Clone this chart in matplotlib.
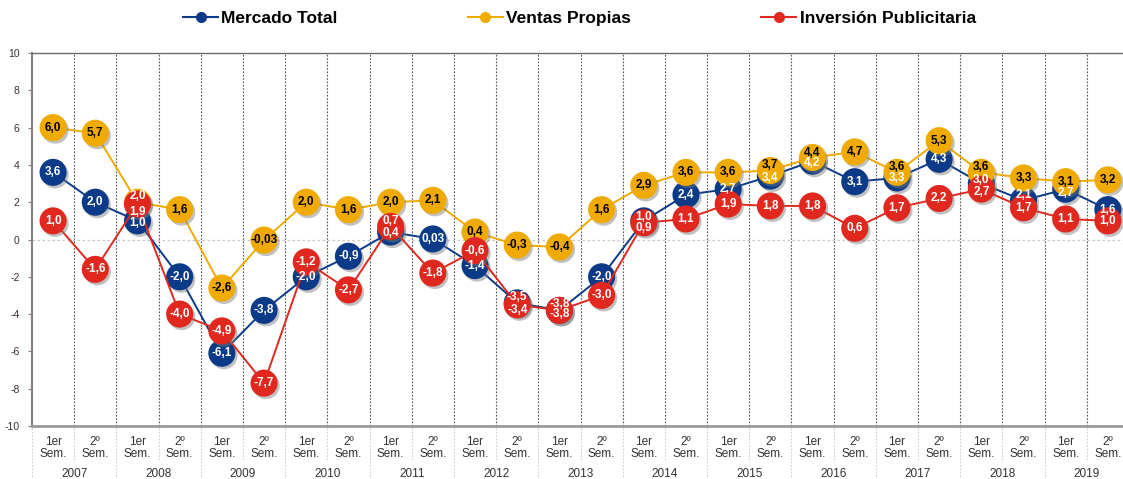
import matplotlib
matplotlib.use('Agg')
import matplotlib.pyplot as plt
import matplotlib.patheffects as pe
import matplotlib.transforms as mtransforms
from matplotlib.lines import Line2D

plt.rcParams['font.family'] = ['Liberation Sans', 'DejaVu Sans']

# datos (tasa de variación semestral, %)
semestres = ['1er\nSem.', '2º\nSem.'] * 13
anios = ['2007', '2008', '2009', '2010', '2011', '2012', '2013',
         '2014', '2015', '2016', '2017', '2018', '2019']

mercado_total = [3.6, 2.0, 1.0, -2.0, -6.1, -3.8, -2.0, -0.9, 0.4, 0.03,
                 -1.4, -3.4, -3.8, -2.0, 1.0, 2.4, 2.7, 3.4, 4.2, 3.1,
                 3.3, 4.3, 3.0, 2.1, 2.7, 1.6]
ventas_propias = [6.0, 5.7, 2.0, 1.6, -2.6, -0.03, 2.0, 1.6, 2.0, 2.1,
                  0.4, -0.3, -0.4, 1.6, 2.9, 3.6, 3.6, 3.7, 4.4, 4.7,
                  3.6, 5.3, 3.6, 3.3, 3.1, 3.2]
inversion_pub = [1.0, -1.6, 1.9, -4.0, -4.9, -7.7, -1.2, -2.7, 0.7, -1.8,
                 -0.6, -3.5, -3.8, -3.0, 0.9, 1.1, 1.9, 1.8, 1.8, 0.6,
                 1.7, 2.2, 2.7, 1.7, 1.1, 1.0]

AZUL = '#0b3b88'
AMARILLO = '#f0aa00'
ROJO = '#e0281f'

# desplazamientos de etiquetas solapadas (px, + arriba)
ajuste_mercado = {2: -2, 8: -1, 11: -7, 12: -4, 14: 4, 17: -2, 18: -2,
                  22: 4, 23: 5, 24: -4}
ajuste_ventas = {2: 6, 17: 5, 18: 4, 20: 5, 22: 5}
ajuste_inversion = {2: -8, 8: 5, 11: 8, 12: 6, 14: -5, 22: -3}

series = [
    ('Mercado Total', mercado_total, AZUL, 'white', ajuste_mercado),
    ('Ventas Propias', ventas_propias, AMARILLO, 'black', ajuste_ventas),
    ('Inversión Publicitaria', inversion_pub, ROJO, 'white', ajuste_inversion),
]


def fmt(v):
    if v != 0 and abs(v) < 0.1:
        return f'{v:.2f}'.replace('.', ',')
    return f'{v:.1f}'.replace('.', ',')


fig = plt.figure(figsize=(11.23, 4.79), dpi=100)
ax = fig.add_axes([32 / 1123, 53 / 479, 1097 / 1123, 373 / 479])

x = list(range(len(semestres)))
sombra = [pe.SimplePatchShadow(offset=(1.5, -1.8), shadow_rgbFace='#777777', alpha=0.45),
          pe.Normal()]

for z, (nombre, vals, color, tcolor, ajuste) in enumerate(series):
    ax.plot(x, vals, color=color, lw=1.4, zorder=3 + z * 2)
    ax.plot(x, vals, ls='none', marker='o', markersize=19.5, markeredgewidth=0,
            color=color, zorder=4 + z * 2, path_effects=sombra)

for nombre, vals, color, tcolor, ajuste in series:
    for i, v in enumerate(vals):
        c = tcolor
        if nombre == 'Ventas Propias' and i == 2:
            c = 'white'
        ax.annotate(fmt(v), (i, v), xytext=(0, ajuste.get(i, 0) * 0.72),
                    textcoords='offset points', ha='center', va='center',
                    fontsize=8.5, fontweight='bold', color=c, zorder=20)

ax.set_xlim(-0.5, len(x) - 0.5)
ax.set_ylim(-10, 10)
ax.set_yticks(range(-10, 11, 2))
ax.set_yticklabels([str(t) for t in range(-10, 11, 2)])
ax.tick_params(axis='y', labelsize=7.5, colors='#333333', length=3, width=0.8,
               pad=6)
ax.tick_params(axis='y', color='#8a7f7f')
ax.set_xticks([])

# rejilla
for b in range(len(x) - 1):
    ax.axvline(b + 0.5, color='#555555', lw=0.8, ls=(0, (1.5, 1.5)), zorder=1)
ax.axhline(0, color='#c8c8c8', lw=0.9, ls=(0, (2, 2)), zorder=1)

ax.spines['right'].set_visible(False)
ax.spines['top'].set_color('#6b6b6b')
ax.spines['top'].set_linewidth(1.0)
ax.spines['left'].set_color('#8a7f7f')
ax.spines['left'].set_linewidth(1.5)
ax.spines['bottom'].set_color('#9a9a9a')
ax.spines['bottom'].set_linewidth(2.0)

# eje x en dos niveles
trans = mtransforms.blended_transform_factory(ax.transData, ax.transAxes)
for i, lab in enumerate(semestres):
    ax.text(i, -0.059, lab, transform=trans, ha='center', va='center',
            fontsize=8.5, color='#333333', linespacing=1.0)
for k, anio in enumerate(anios):
    ax.text(2 * k + 0.5, -0.13, anio, transform=trans, ha='center',
            va='center', fontsize=8.5, color='#333333')
for k in range(len(anios)):
    ax.plot([2 * k + 0.5, 2 * k + 0.5], [-0.005, -0.095], transform=trans,
            color='#cfcfcf', lw=0.8, ls=(0, (1.5, 1.5)), clip_on=False)
for b in range(len(anios) + 1):
    ax.plot([2 * b - 0.5, 2 * b - 0.5], [-0.005, -0.15], transform=trans,
            color='#cfcfcf', lw=0.8, ls=(0, (1.5, 1.5)), clip_on=False)

# leyenda
handles = [Line2D([], [], color=c, lw=1.5, marker='o', markersize=8,
                  markeredgewidth=0) for _, _, c, _, _ in series]
fig.legend(handles, [s[0] for s in series], loc='center',
           bbox_to_anchor=(0.516, 0.962), ncol=3, frameon=False,
           prop={'weight': 'bold', 'size': 12.5}, handlelength=2.0,
           handletextpad=0.2, columnspacing=7.5)

fig.savefig('out.png', dpi=100)
